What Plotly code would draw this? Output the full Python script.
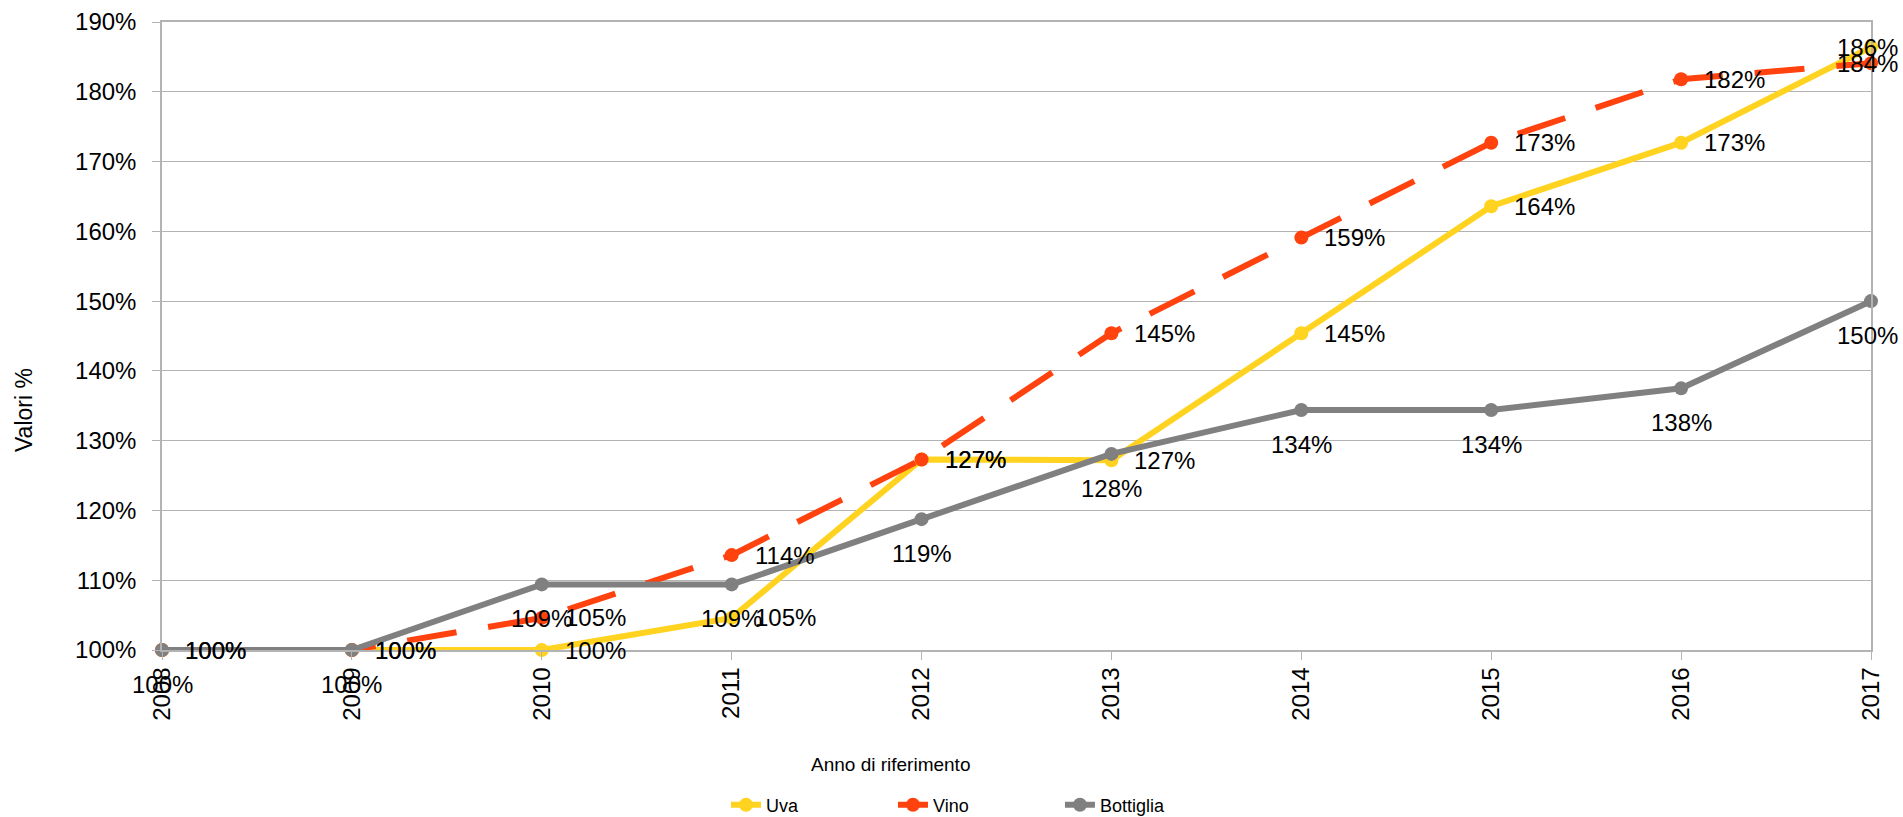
import plotly.graph_objects as go

years = [2008, 2009, 2010, 2011, 2012, 2013, 2014, 2015, 2016, 2017]
uva = [100, 100, 100, 104.6, 127.3, 127.2, 145.4, 163.6, 172.7, 186.4]
vino = [100, 100, 104.6, 113.6, 127.3, 145.4, 159.1, 172.7, 181.8, 184.1]
bottiglia = [100, 100, 109.4, 109.4, 118.75, 128.1, 134.4, 134.4, 137.5, 150.0]

series = [
    ("Uva", uva, "#FFD320", "solid", "right"),
    ("Vino", vino, "#FF420E", "50px,32px", "right"),
    ("Bottiglia", bottiglia, "#808080", "solid", "below"),
]

FONT = "Liberation Sans, Arial, sans-serif"

fig = go.Figure()
annotations = []
for name, vals, color, dash, pos in series:
    fig.add_trace(go.Scatter(
        x=years, y=vals, name=name, mode="lines+markers",
        line=dict(color=color, width=6, dash=dash),
        marker=dict(color=color, size=14),
        cliponaxis=False,
    ))
    for i, (xv, yv) in enumerate(zip(years, vals)):
        label = f"{round(yv)}%"
        last = i == len(years) - 1
        if pos == "right":
            annotations.append(dict(
                x=xv, y=yv, text=label, showarrow=False,
                xanchor="right" if last else "left", yanchor="middle",
                xshift=29 if last else 21,
                font=dict(family=FONT, size=24, color="#000000"),
            ))
        else:
            annotations.append(dict(
                x=xv, y=yv, text=label, showarrow=False,
                xanchor="right" if last else "center", yanchor="top",
                xshift=29 if last else 0, yshift=-19,
                font=dict(family=FONT, size=24, color="#000000"),
            ))

annotations.append(dict(
    xref="paper", yref="paper", x=0.426, y=-0.183, text="Anno di riferimento",
    showarrow=False, xanchor="center", yanchor="middle",
    font=dict(family=FONT, size=19, color="#000000"),
))
annotations.append(dict(
    xref="paper", yref="paper", x=-0.0808, y=0.382, text="Valori %",
    showarrow=False, xanchor="center", yanchor="middle", textangle=-90,
    font=dict(family=FONT, size=23, color="#000000"),
))

fig.update_layout(
    width=1903, height=817,
    margin=dict(l=162, r=32, t=22, b=167),
    paper_bgcolor="white", plot_bgcolor="white",
    font=dict(family=FONT, size=24, color="#000000"),
    showlegend=True,
    legend=dict(
        orientation="h", x=0.330, xref="paper", y=12 / 817, yref="container",
        xanchor="left", yanchor="middle",
        font=dict(family=FONT, size=18, color="#000000"),
        entrywidth=122, entrywidthmode="pixels",
        bgcolor="rgba(0,0,0,0)",
    ),
    annotations=annotations,
)
fig.update_xaxes(
    range=[2008, 2017], tickmode="array", tickvals=years, ticktext=[str(y) for y in years],
    tickangle=-90, showgrid=False, showline=True, linecolor="#b3b3b3", linewidth=1.5,
    mirror=True, ticks="outside", ticklen=8, tickcolor="#b3b3b3", tickwidth=1,
    ticklabelstandoff=-2, zeroline=False, automargin=False,
    tickfont=dict(family=FONT, size=24, color="#000000"),
)
fig.update_yaxes(
    range=[100, 190], dtick=10, ticksuffix="%", showgrid=True, gridcolor="#b3b3b3",
    gridwidth=1, showline=True, linecolor="#b3b3b3", linewidth=1.5, mirror=True,
    ticks="outside", ticklen=8, tickcolor="#b3b3b3", tickwidth=1,
    ticklabelstandoff=11, zeroline=False, automargin=False,
    tickfont=dict(family=FONT, size=24, color="#000000"),
)

fig.write_html(
    "out.html",
    config={"displayModeBar": False},
    post_script="document.body.style.margin='0';document.body.style.overflow='hidden';",
)
